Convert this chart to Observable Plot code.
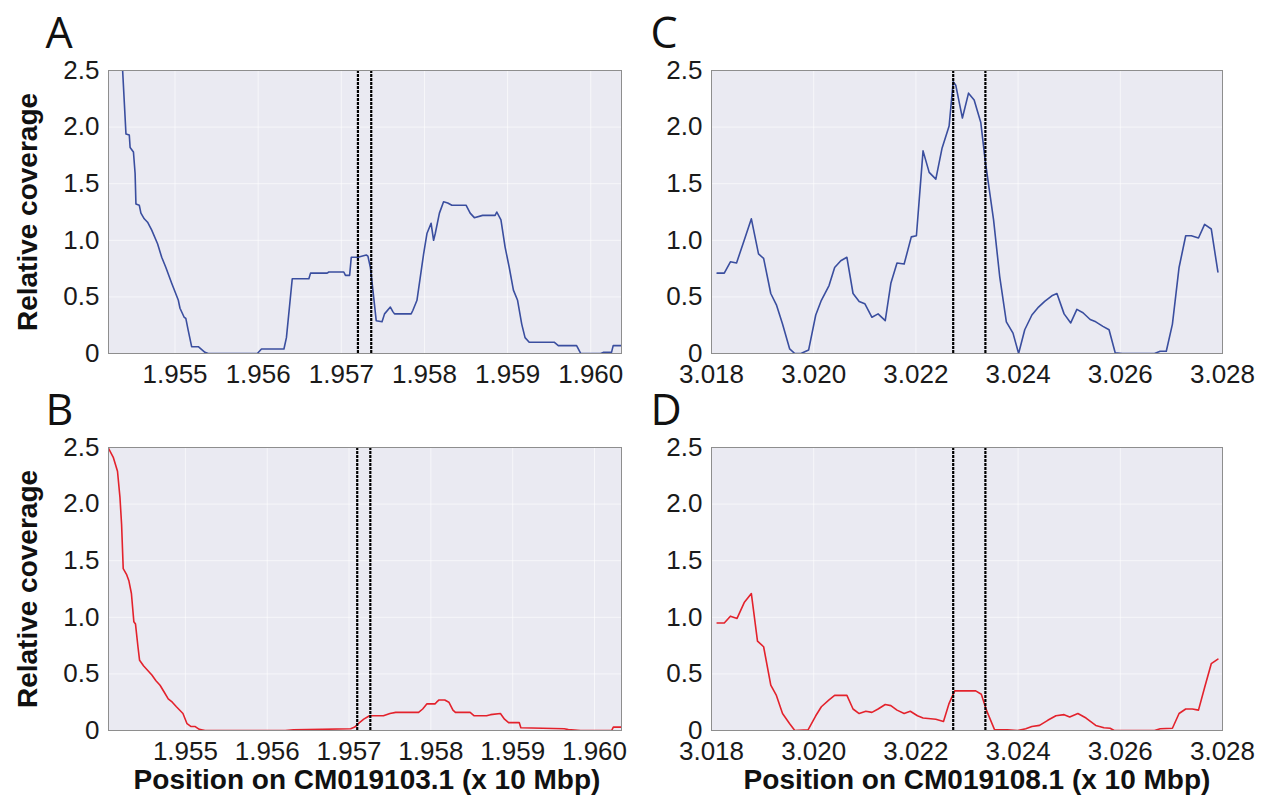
<!DOCTYPE html>
<html>
<head>
<meta charset="utf-8">
<script src="https://cdn.jsdelivr.net/npm/d3@7"></script>
<script src="https://cdn.jsdelivr.net/npm/@observablehq/plot@0.6"></script>
<style>
  body { margin: 0; background: #fff; }
  #wrap { position: relative; width: 1262px; height: 799px; overflow: hidden; background: #fff; }
  .panel { position: absolute; }
  .panel svg { overflow: visible; }
</style>
</head>
<body>
<div id="wrap"></div>
<script>
// ---- tick values ----
const yTicks = [0, 0.5, 1, 1.5, 2, 2.5];
const xTicksLeft = [1.955, 1.956, 1.957, 1.958, 1.959, 1.960];
const xTicksRight = [3.018, 3.020, 3.022, 3.024, 3.026, 3.028];

// ---- x domains ----
const domainA = [1.9542, 1.96037];
const domainB = [1.95406, 1.96033];
const domainCD = [3.018, 3.028];

// ---- breakpoints (dashed lines) ----
const breaksA = [1.95720, 1.95736];
const breaksB = [1.95710, 1.95726];
const breaksCD = [3.02273, 3.02336];

// ---- Panel A (blue, CM019103.1) ----
const posA = [1.95436,1.95437,1.95441,1.95445,1.95446,1.95450,1.95452,1.95453,1.95457,1.95459,1.95463,1.95467,1.95472,1.95479,1.95484,1.95489,1.95496,1.95504,1.95506,1.95511,1.95513,1.95516,1.95520,1.95528,1.95536,1.95540,1.95599,1.95604,1.95631,1.95634,1.95641,1.95661,1.95663,1.95683,1.95685,1.95703,1.95705,1.95710,1.95712,1.95720,1.95730,1.95732,1.95735,1.95738,1.95742,1.95749,1.95752,1.95759,1.95762,1.95764,1.95784,1.95786,1.95791,1.95799,1.95803,1.95808,1.95811,1.95813,1.95818,1.95823,1.95828,1.95833,1.95850,1.95855,1.95860,1.95870,1.95885,1.95887,1.95892,1.95897,1.95902,1.95907,1.95912,1.95917,1.95921,1.95926,1.95956,1.95961,1.95983,1.95988,1.96012,1.96015,1.96025,1.96027,1.96037];
const covA = [2.7,2.5,1.94,1.93,1.82,1.78,1.59,1.32,1.31,1.24,1.19,1.16,1.09,0.97,0.85,0.76,0.62,0.47,0.40,0.32,0.31,0.20,0.06,0.06,0.01,0,0,0.04,0.04,0.14,0.66,0.66,0.71,0.71,0.72,0.72,0.69,0.69,0.85,0.85,0.87,0.86,0.76,0.56,0.29,0.28,0.35,0.41,0.37,0.35,0.35,0.38,0.47,0.88,1.06,1.15,1.00,1.06,1.24,1.34,1.33,1.31,1.31,1.24,1.20,1.22,1.22,1.25,1.18,0.94,0.76,0.56,0.47,0.26,0.14,0.10,0.10,0.07,0.07,0,0,0.01,0.01,0.07,0.07];

// ---- Panel B (red, CM019103.1) ----
const posB = [1.95404,1.95412,1.95417,1.95420,1.95422,1.95424,1.95428,1.95431,1.95434,1.95437,1.95439,1.95442,1.95444,1.95449,1.95454,1.95459,1.95464,1.95469,1.95474,1.95479,1.95484,1.95489,1.95497,1.95502,1.95507,1.95512,1.95517,1.95524,1.95622,1.95632,1.95702,1.95707,1.95712,1.95718,1.95725,1.95742,1.95750,1.95757,1.95785,1.95790,1.95795,1.95805,1.95807,1.95810,1.95817,1.95822,1.95827,1.95830,1.95848,1.95853,1.95868,1.95873,1.95885,1.95890,1.95895,1.95908,1.95910,1.95963,1.95968,1.95983,1.96021,1.96023,1.96033];
const covB = [2.52,2.41,2.29,2.06,1.82,1.43,1.38,1.32,1.21,0.96,0.94,0.74,0.62,0.57,0.53,0.49,0.44,0.40,0.34,0.28,0.25,0.21,0.15,0.06,0.035,0.035,0.01,0,0,0.006,0.015,0.03,0.065,0.10,0.13,0.13,0.15,0.16,0.16,0.19,0.235,0.235,0.25,0.27,0.27,0.25,0.18,0.16,0.16,0.13,0.13,0.14,0.15,0.10,0.07,0.07,0.024,0.015,0.008,0,0,0.03,0.03];

// ---- Panel C (blue, CM019108.1) ----
const posC = [3.01811,3.01825,3.01837,3.01849,3.01864,3.01878,3.01892,3.01902,3.01916,3.01927,3.01939,3.01953,3.01963,3.01975,3.01990,3.02004,3.02015,3.02030,3.02041,3.02053,3.02065,3.02077,3.02089,3.02100,3.02114,3.02126,3.02140,3.02151,3.02163,3.02177,3.02191,3.02201,3.02214,3.02226,3.02239,3.02251,3.02265,3.02273,3.02278,3.02291,3.02303,3.02314,3.02327,3.02336,3.02352,3.02364,3.02377,3.02390,3.02401,3.02413,3.02427,3.02440,3.02452,3.02466,3.02476,3.02490,3.02503,3.02515,3.02527,3.02541,3.02552,3.02566,3.02578,3.02590,3.02604,3.02667,3.02678,3.02690,3.02702,3.02715,3.02728,3.02739,3.02753,3.02765,3.02778,3.02791];
const covC = [0.71,0.71,0.81,0.80,1.00,1.19,0.88,0.84,0.53,0.43,0.26,0.04,0,0,0.03,0.34,0.47,0.60,0.76,0.82,0.85,0.53,0.46,0.44,0.32,0.35,0.29,0.62,0.80,0.79,1.03,1.04,1.79,1.60,1.54,1.81,2.01,2.40,2.37,2.08,2.30,2.24,2.04,1.69,1.18,0.68,0.28,0.18,0,0.21,0.34,0.41,0.46,0.51,0.53,0.35,0.27,0.39,0.36,0.30,0.28,0.24,0.21,0.006,0,0,0.02,0.02,0.26,0.76,1.04,1.04,1.02,1.14,1.10,0.72];

// ---- Panel D (red, CM019108.1) ----
const posD = [3.01811,3.01825,3.01837,3.01850,3.01864,3.01878,3.01890,3.01902,3.01916,3.01927,3.01939,3.01953,3.01963,3.01989,3.02004,3.02015,3.02030,3.02041,3.02065,3.02077,3.02089,3.02102,3.02114,3.02126,3.02140,3.02151,3.02163,3.02177,3.02189,3.02203,3.02214,3.02239,3.02254,3.02265,3.02276,3.02289,3.02317,3.02328,3.02338,3.02354,3.02379,3.02399,3.02415,3.02427,3.02442,3.02458,3.02474,3.02490,3.02501,3.02517,3.02533,3.02552,3.02568,3.02580,3.02588,3.02667,3.02678,3.02702,3.02715,3.02728,3.02741,3.02753,3.02765,3.02778,3.02791];
const covD = [0.95,0.95,1.01,0.99,1.13,1.21,0.79,0.74,0.40,0.31,0.15,0.06,0,0.006,0.13,0.21,0.27,0.31,0.31,0.19,0.15,0.17,0.16,0.19,0.23,0.22,0.18,0.15,0.17,0.13,0.11,0.10,0.08,0.24,0.35,0.35,0.35,0.32,0.18,0.006,0.006,0,0.015,0.035,0.045,0.09,0.13,0.14,0.12,0.15,0.11,0.045,0.024,0.02,0,0,0.015,0.02,0.15,0.19,0.19,0.18,0.38,0.59,0.63];

const letters = ["A", "B", "C", "D"];
const yLabel = "Relative coverage";
const xLabels = ["Position on CM019103.1 (x 10 Mbp)", "Position on CM019108.1 (x 10 Mbp)"];

const BLUE = "#3a4e9f";
const RED = "#e3222c";
const TICK_FONT = "'Liberation Sans', Arial, sans-serif";

function panel(cfg) {
  const data = cfg.x.map((d, i) => ({x: d, y: cfg.y[i]}));
  const marks = [
    Plot.frame({fill: "#eaeaf2", stroke: null}),
    Plot.gridX(cfg.xTicks, {stroke: "#ffffff", strokeOpacity: 0.6, strokeWidth: 1}),
    Plot.gridY(yTicks, {stroke: "#ffffff", strokeOpacity: 0.6, strokeWidth: 1}),
    Plot.line(data, {x: "x", y: "y", stroke: cfg.color, strokeWidth: 1.6, clip: true}),
    Plot.ruleX(cfg.breaks, {stroke: "#000", strokeWidth: 2.2, strokeDasharray: "3,1"}),
    Plot.frame({stroke: "#8e8e8e", strokeWidth: 1}),
    Plot.axisX(cfg.xTicks, {tickSize: 0, tickPadding: 11, label: null, fontSize: 26, fill: "#1a1a1a",
      tickFormat: d3.format(".3f")}),
    Plot.axisY(yTicks, {tickSize: 0, tickPadding: 9, label: null, fontSize: 26, fill: "#1a1a1a",
      tickFormat: d => d === 0 ? "0" : d.toFixed(1)}),
    Plot.text([cfg.letter], {text: d => d, frameAnchor: "top-left", dx: cfg.letterDx, dy: -36.5,
      textAnchor: "start", lineAnchor: "middle", fontSize: 43, fontFamily: "'Open Sans', sans-serif", fill: "#111"})
  ];
  if (cfg.yLabel) marks.push(Plot.text([cfg.yLabel], {text: d => d, frameAnchor: "left", dx: -80, rotate: -90,
      textAnchor: "middle", lineAnchor: "middle", fontSize: 28, fontWeight: "bold", fill: "#111"}));
  if (cfg.xLabel) marks.push(Plot.text([cfg.xLabel], {text: d => d, frameAnchor: "bottom", dx: cfg.xLabelDx || 0, dy: 50,
      textAnchor: "middle", lineAnchor: "middle", fontSize: 28, fontWeight: "bold", fill: "#111"}));
  const svg = Plot.plot({
    width: cfg.width, height: cfg.height,
    marginLeft: cfg.mL, marginRight: cfg.mR, marginTop: cfg.mT, marginBottom: cfg.mB,
    style: {fontFamily: TICK_FONT, fontSize: "26px", background: "transparent", overflow: "visible", color: "#1a1a1a"},
    x: {domain: cfg.xDomain},
    y: {domain: [0, 2.5]},
    marks
  });
  const div = document.createElement("div");
  div.className = "panel";
  div.style.left = cfg.left + "px";
  div.style.top = cfg.top + "px";
  div.appendChild(svg);
  document.getElementById("wrap").appendChild(div);
}

panel({left: 0, top: 0, width: 640, height: 400, mL: 108, mR: 19, mT: 70, mB: 47,
  x: posA, y: covA, color: BLUE, xDomain: domainA, xTicks: xTicksLeft, breaks: breaksA,
  letter: letters[0], letterDx: -63, yLabel: yLabel});
panel({left: 640, top: 0, width: 622, height: 400, mL: 71, mR: 40, mT: 70, mB: 47,
  x: posC, y: covC, color: BLUE, xDomain: domainCD, xTicks: xTicksRight, breaks: breaksCD,
  letter: letters[2], letterDx: -61});
panel({left: 0, top: 400, width: 640, height: 399, mL: 108, mR: 19, mT: 47, mB: 69,
  x: posB, y: covB, color: RED, xDomain: domainB, xTicks: xTicksLeft, breaks: breaksB,
  letter: letters[1], letterDx: -63, yLabel: yLabel, xLabel: xLabels[0], xLabelDx: 2});
panel({left: 640, top: 400, width: 622, height: 399, mL: 71, mR: 40, mT: 47, mB: 69,
  x: posD, y: covD, color: RED, xDomain: domainCD, xTicks: xTicksRight, breaks: breaksCD,
  letter: letters[3], letterDx: -61, xLabel: xLabels[1], xLabelDx: 10});
</script>
</body>
</html>
